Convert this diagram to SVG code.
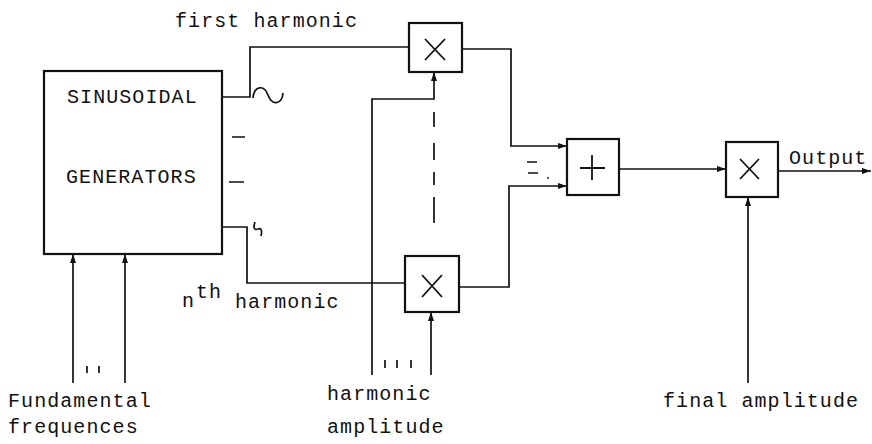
<svg xmlns="http://www.w3.org/2000/svg" width="872" height="444" viewBox="0 0 872 444">
<defs>
<marker id="ah" markerWidth="10" markerHeight="8" refX="9" refY="4" orient="auto" markerUnits="userSpaceOnUse">
<path d="M0,1 L9,4 L0,7 Z" fill="#111"/>
</marker>
<style>
.t{font-family:"Liberation Mono","Courier New",monospace;font-size:20px;letter-spacing:1.07px;fill:#111}
.b{fill:#fff;stroke:#111;stroke-width:2.2}
.s{fill:none;stroke:#111;stroke-width:1.8}
.c{fill:none;stroke:#111;stroke-width:1.7}
.a{marker-end:url(#ah)}
</style>
</defs>
<rect width="872" height="444" fill="#fff"/>

<g id="connectors">
<path class="c" d="M222,97 H250 V47 H409"/>
<path class="c" d="M222,227 H247 V283 H405"/>
<path class="c a" d="M462,49 H511 V146 H567"/>
<path class="c a" d="M459,287 H509 V186 H567"/>
<path class="c a" d="M619,169 H726"/>
<path class="c a" d="M778,171 H871"/>
<path class="c a" d="M748,383 V197"/>
<path class="c a" d="M372,375 V99 H434 V72"/>
<path class="c a" d="M431,375 V312"/>
<path class="c a" d="M73,383 V254"/>
<path class="c a" d="M125,383 V254"/>
<path class="c" d="M434,112 V127 M434,143 V160 M434,172 V185 M434,197 V223"/>
</g>

<g id="generators">
<rect class="b" x="44" y="71" width="178" height="183"/>
<text class="t" x="67" y="103">SINUSOIDAL</text>
<text class="t" x="66" y="183">GENERATORS</text>
</g>

<g id="symbols">
<path class="c" d="M253,98 C254,86 264,84 268,95 C272,106 282,105 283,93"/>
<path class="c" d="M255,222 Q252,231 258,229 Q263,227 261,236"/>
<path class="c" d="M232,137 H245 M229,182 H244"/>
<path class="c" d="M527,162 H537 M528,173 H538"/>
<circle cx="548" cy="178" r="0.9" fill="#111"/>
<path class="c" d="M87,366 V373 M99,366 V373"/>
<path class="c" d="M385,360 V368 M397,360 V368 M411,360 V368"/>
</g>

<g id="mult-first">
<rect class="b" x="409" y="23" width="53" height="49"/>
<path class="s" d="M425,39 L445,60 M445,39 L425,60"/>
</g>

<g id="mult-nth">
<rect class="b" x="405" y="256" width="54" height="56"/>
<path class="s" d="M422,275 L442,297 M442,275 L422,297"/>
</g>

<g id="adder">
<rect class="b" x="567" y="139" width="52" height="56"/>
<path class="s" d="M580,168 H605 M592,155 V180"/>
</g>

<g id="mult-final">
<rect class="b" x="726" y="142" width="52" height="55"/>
<path class="s" d="M740,159 L759,179 M759,159 L740,179"/>
</g>

<g id="labels">
<text class="t" x="175" y="27">first harmonic</text>
<text class="t" x="789" y="164">Output</text>
<text class="t" x="182" y="307">n</text>
<text class="t" x="196" y="298">th</text>
<text class="t" x="235" y="308">harmonic</text>
<text class="t" x="8" y="407">Fundamental</text>
<text class="t" x="8" y="433">frequences</text>
<text class="t" x="327" y="400">harmonic</text>
<text class="t" x="327" y="433">amplitude</text>
<text class="t" x="663" y="407">final amplitude</text>
</g>
</svg>
